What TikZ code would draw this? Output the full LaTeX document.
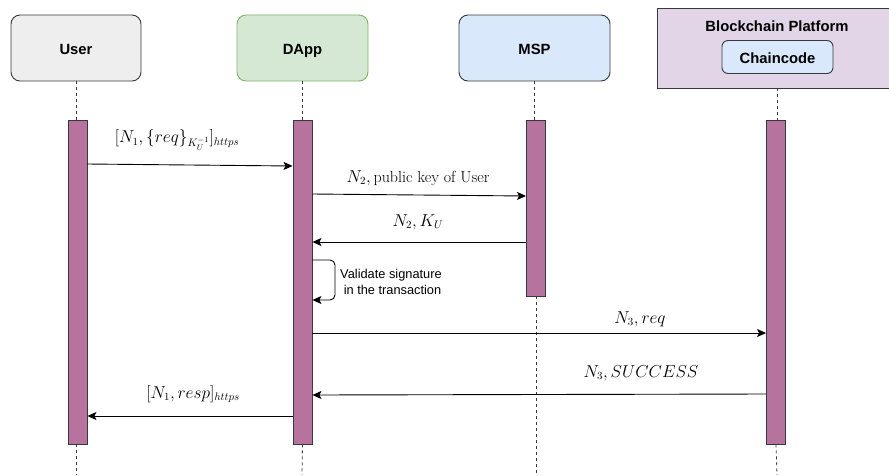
\documentclass[tikz,border=0pt]{standalone}
\usepackage{amsmath}
\usepackage{fontspec}
\setsansfont{Liberation Sans}
\usetikzlibrary{arrows.meta}
\definecolor{usrfill}{HTML}{EEEEEE}
\definecolor{dappfill}{HTML}{D5E8D4}
\definecolor{dappline}{HTML}{82B366}
\definecolor{mspfill}{HTML}{DAE8FC}
\definecolor{bcfill}{HTML}{E1D5E7}
\definecolor{darkline}{HTML}{36393D}
\definecolor{barfill}{HTML}{B5739D}
\tikzset{
  every picture/.style={x=1pt,y=-1pt},
  headfont/.style={font=\sffamily\bfseries\fontsize{14.8}{17}\selectfont, text height=14pt, text depth=2pt},
  head/.style={draw=darkline, line width=0.9pt, rounded corners=9pt, minimum height=66pt,
    headfont, inner sep=0pt},
  bar/.style={draw=darkline, fill=barfill, line width=0.9pt, minimum width=19pt, inner sep=0pt},
  life/.style={draw=darkline, line width=0.8pt, dash pattern=on 3pt off 3pt},
  msg/.style={draw=black, line width=0.9pt, -{Stealth[length=9pt,width=8pt,inset=2pt]}},
  lbl/.style={font=\fontsize{16}{19}\selectfont, inner sep=0pt},
  note/.style={font=\sffamily\fontsize{12.8}{15.2}\selectfont, align=left, inner sep=0pt}
}
\begin{document}
\begin{tikzpicture}
\useasboundingbox (0,0) rectangle (889,475);

% participant heads
\node[head, fill=usrfill, minimum width=130pt] (user) at (76,48) {User};
\node[head, fill=dappfill, draw=dappline, minimum width=131pt] (dapp) at (302.5,48) {DApp};
\node[head, fill=mspfill, minimum width=151pt] (msp) at (534.5,48) {MSP};
\node[draw=darkline, fill=bcfill, line width=0.9pt, minimum width=240pt, minimum height=80pt, inner sep=0pt] (bc) at (777,48) {};
\node[headfont, inner sep=0pt] (bctitle) at (777,25) {Blockchain Platform};
\node[draw=darkline, fill=mspfill, line width=0.9pt, rounded corners=6pt, minimum width=111pt, minimum height=33pt,
  headfont, inner sep=0pt] (cc) at (777.5,57) {Chaincode};

% activation bars
\node[bar, minimum height=324pt] (ubar) at (77.5,282) {};
\node[bar, minimum height=324pt] (dbar) at (302.5,282) {};
\node[bar, minimum height=176pt] (mbar) at (536,208) {};
\node[bar, minimum height=324pt] (bbar) at (776,282) {};

% lifelines
\coordinate (uend) at (76,475);
\coordinate (dend) at (302,475);
\coordinate (mend) at (536,475);
\coordinate (bend) at (777,475);
\draw[life] (user.south) -- (user.south |- ubar.north);
\draw[life] (ubar.south -| user.south) -- (uend);
\draw[life] (dapp.south) -- (dapp.south |- dbar.north);
\draw[life] (dbar.south -| dapp.south) -- (dend);
\draw[life] (msp.south) -- (msp.south |- mbar.north);
\draw[life] (mbar.south) -- (mend);
\draw[life] (bc.south) -- (bc.south |- bbar.north);
\draw[life] (bbar.south) -- (bend);

% messages
\draw[msg] (ubar.east |- 0,164) -- (dbar.west |- 0,166);
\node[lbl] (m1) at (177,140) {$[N_1,\{req\}_{K_U^{-1}}]_{https}$};

\draw[msg] (dbar.east |- 0,194) -- (mbar.west |- 0,196);
\node[lbl] (m2) at (418,178) {$N_2,\text{public key of User}$};

\draw[msg] (mbar.west |- 0,242) -- (dbar.east |- 0,242);
\node[lbl] (m3) at (418,222) {$N_2,K_U$};

\draw[msg, rounded corners=5pt] (dbar.east |- 0,260) -- (335,260) -- (335,300) -- (dbar.east |- 0,300);
\node[note, anchor=west] (m4) at (340,282) {Validate signature\\\ in the transaction};

\draw[msg] (dbar.east |- 0,333) -- (bbar.west |- 0,333);
\node[lbl] (m5) at (640,319) {$N_3,req$};

\draw[msg] (bbar.west |- 0,394) -- (dbar.east |- 0,395);
\node[lbl] (m6) at (641,373) {$N_3,SUCCESS$};

\draw[msg] (dbar.west |- 0,416) -- (ubar.east |- 0,416);
\node[lbl] (m7) at (193,394) {$[N_1,resp]_{https}$};
\end{tikzpicture}
\end{document}
